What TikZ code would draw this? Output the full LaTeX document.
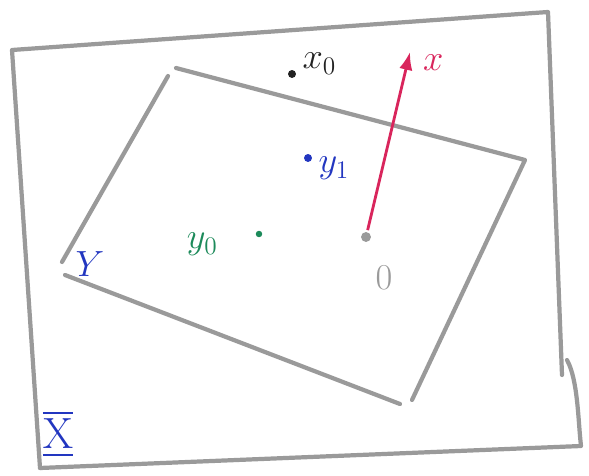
\documentclass[tikz,border=0pt]{standalone}
\usepackage{amsmath}
\usepackage{xcolor}
\usetikzlibrary{arrows.meta,positioning,calc}
\definecolor{Pencil}{HTML}{9A9A9A}
\definecolor{PenRed}{HTML}{D9255C}
\definecolor{PenBlue}{HTML}{2236C0}
\definecolor{PenGreen}{HTML}{1C8A5A}
\definecolor{PenBlack}{HTML}{222222}

\begin{document}
\begin{tikzpicture}[x=0.02cm,y=-0.02cm,>=Latex,every node/.style={font=\huge},frame/.style={draw=Pencil,line width=2.4pt,line cap=round,line join=round},dot/.style={circle,fill,inner sep=1.6pt},vec/.style={->,line width=1.6pt,draw=PenRed,shorten <=1pt}]
\useasboundingbox (0,0) rectangle (589,476);
\fill[white] (0,0) rectangle (589,476);
% outer space
\draw[frame] (40,468)--(12,50)--(548,12)--(562,375);
\draw[frame] (567,360) .. controls (578,380) and (578,420) .. (581,446)--(40,468);
% plane Y
\draw[frame] (176,68)--(525,160)--(412,400);
\draw[frame] (400,404)--(65,275);
\draw[frame] (62,262)--(168,76);
% points
\node[dot,text=PenBlack,fill=PenBlack](xz) at (292,74){};
\node[text=PenBlack,right=0pt of xz,yshift=6pt](xzl){$x_0$};
\node[dot,fill=PenBlue](yo) at (308,158){};
\node[text=PenBlue,right=0pt of yo,yshift=-6pt](yol){$y_1$};
\node[dot,fill=PenGreen,inner sep=1.3pt](yz) at (259,234){};
\node[text=PenGreen,left=18pt of yz,yshift=-6pt](yzl){$y_0$};
\node[dot,fill=Pencil,inner sep=2pt](org) at (366,237){};
\node[text=Pencil](orgl) at (384,278){$0$};
\coordinate (tip) at (410,52);
\draw[vec](org)--(tip);
\node[text=PenRed,right=4pt of tip,yshift=-6pt](xl){$x$};
\node[text=PenBlue](yl) at (90,264){$Y$};
\node[text=PenBlue,font=\Huge](xsp) at (58,434){$\overline{\underline{\mathrm{X}}}$};
\end{tikzpicture}
\end{document}
